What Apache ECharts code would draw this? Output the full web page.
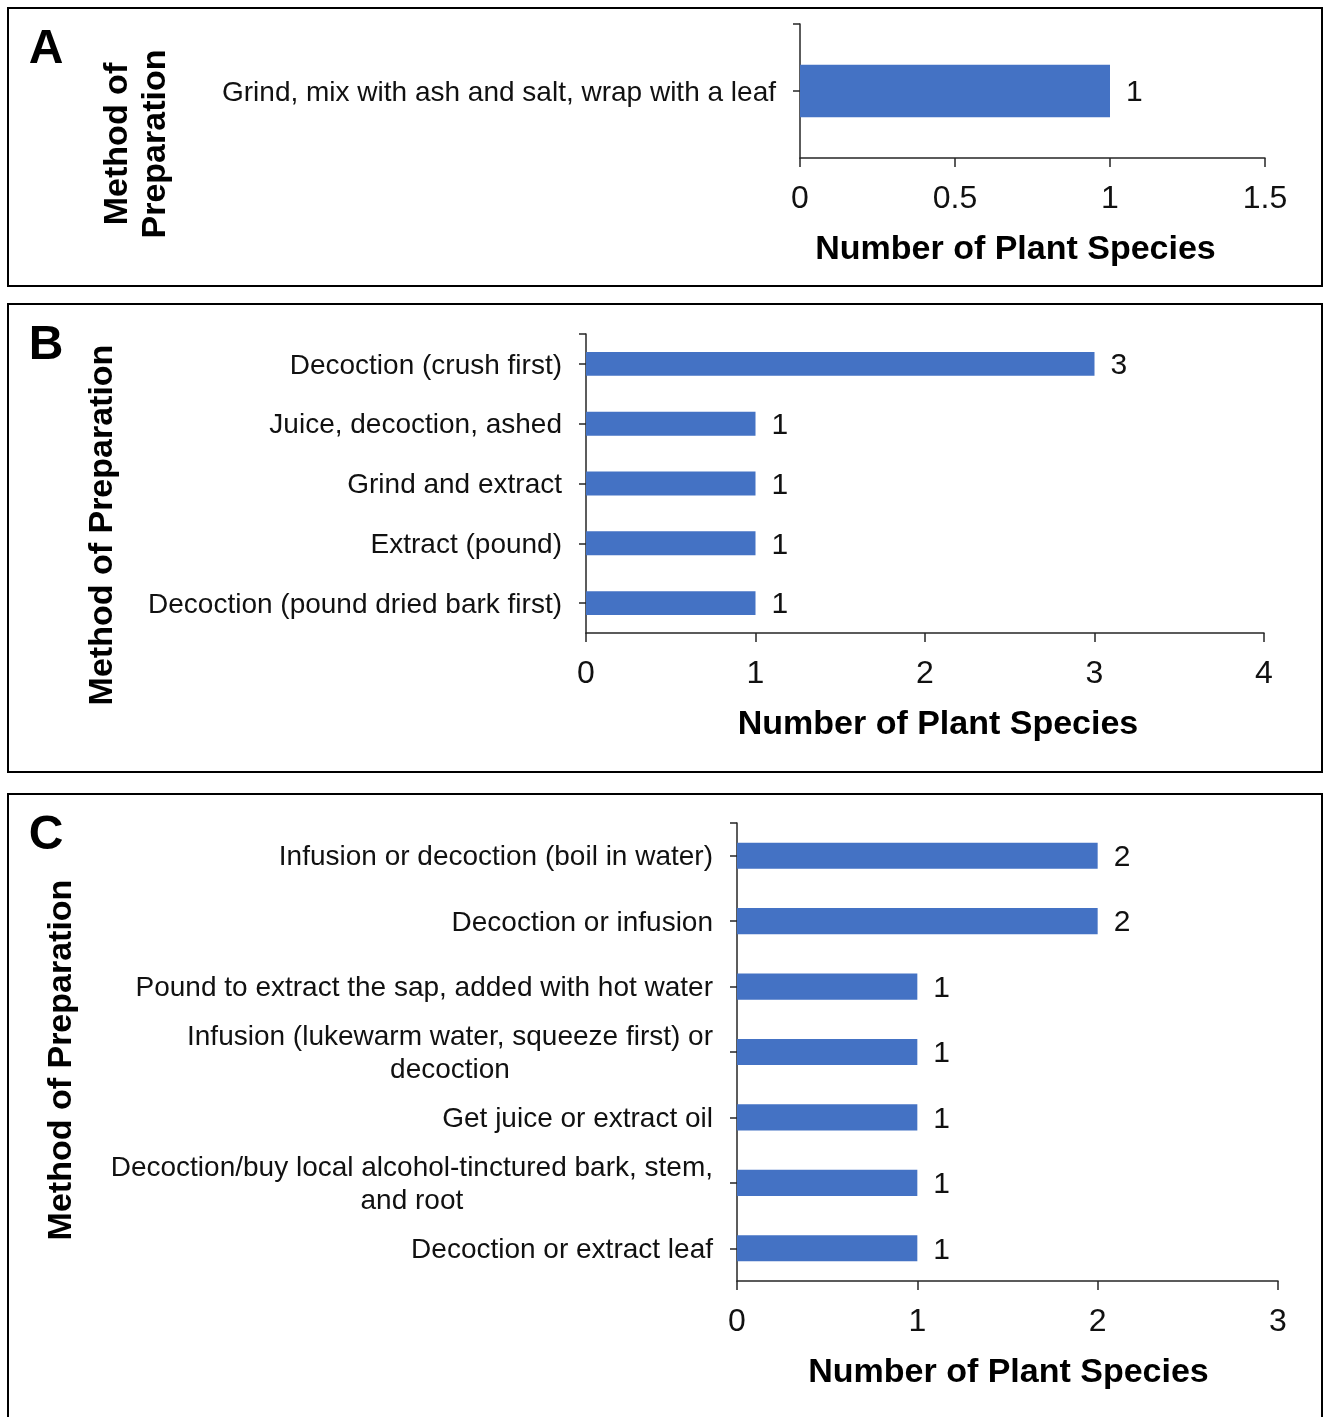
<!DOCTYPE html>
<html>
<head>
<meta charset="utf-8">
<script src="https://cdn.jsdelivr.net/npm/echarts@6/dist/echarts.min.js"></script>
<style>
html,body{margin:0;padding:0;background:#fff;}
#main{width:1324px;height:1417px;}
</style>
</head>
<body>
<div id="main"></div>
<script>
// ---- data ----
var catA = ['Grind, mix with ash and salt, wrap with a leaf'];
var valA = [1];
var ticksA = [0, 0.5, 1, 1.5];

var catB = ['Decoction (crush first)', 'Juice, decoction, ashed', 'Grind and extract', 'Extract (pound)', 'Decoction (pound dried bark first)'];
var valB = [3, 1, 1, 1, 1];
var ticksB = [0, 1, 2, 3, 4];

var catC = ['Infusion or decoction (boil in water)', 'Decoction or infusion', 'Pound to extract the sap, added with hot water', 'Infusion (lukewarm water, squeeze first) or\ndecoction', 'Get juice or extract oil', 'Decoction/buy local alcohol-tinctured bark, stem,\nand root', 'Decoction or extract leaf'];
var valC = [2, 2, 1, 1, 1, 1, 1];
var ticksC = [0, 1, 2, 3];

var xName = 'Number of Plant Species';
var yNameA = 'Method of\nPreparation';
var yName = 'Method of Preparation';
var panelLetters = ['A', 'B', 'C'];

// ---- styles ----
var FONT = '"Liberation Sans", Arial, sans-serif';
var TXT = '#111';
var AX = '#262626';
var BAR = '#4472C4';

var chart = echarts.init(document.getElementById('main'), null, {renderer: 'canvas'});

var grids = [
  {left: 800, top: 24, width: 465, height: 134},
  {left: 586, top: 334, width: 678, height: 299},
  {left: 737, top: 823, width: 541, height: 458}
];
var barPct = ['39%', '40%', '40%'];
var namePad = [[0, 34, 0, 0], [0, 0, 0, 26], [0, 0, 0, 2]];
var cats = [catA, catB, catC];
var vals = [valA, valB, valC];
var ticks = [ticksA, ticksB, ticksC];

function xAxis(i) {
  var t = ticks[i];
  return {
    type: 'value', gridIndex: i,
    min: t[0], max: t[t.length - 1], interval: t[1] - t[0],
    name: xName, nameLocation: 'middle', nameGap: 75,
    nameTextStyle: {fontFamily: FONT, fontSize: 34, fontWeight: 'bold', color: '#000', padding: namePad[i]},
    axisLine: {show: true, lineStyle: {color: AX, width: 1.5}},
    axisTick: {show: true, length: 9, lineStyle: {color: AX, width: 1.5}},
    axisLabel: {show: true, margin: 25, fontFamily: FONT, fontSize: 32, color: TXT},
    splitLine: {show: false}
  };
}
function yCat(i) {
  return {
    type: 'category', gridIndex: i, data: cats[i], inverse: true,
    axisLine: {show: true, lineStyle: {color: AX, width: 1.5}},
    axisTick: {show: true, alignWithLabel: true, length: 7, lineStyle: {color: AX, width: 1.5}},
    axisLabel: {
      show: true, interval: 0, margin: 24, fontFamily: FONT, fontSize: 28, color: TXT,
      padding: [4, 0, 0, 0],
      formatter: function (v) {
        return v.split('\n').map(function (l) { return '{c|' + l + '}'; }).join('\n');
      },
      rich: {c: {align: 'center', fontFamily: FONT, fontSize: 28, color: TXT, lineHeight: 33}}
    },
    splitLine: {show: false}
  };
}
function yTop(i) {
  return {
    type: 'value', gridIndex: i, min: 0, max: 1, position: 'left',
    axisLine: {show: false},
    axisTick: {show: true, customValues: [1], length: 7, lineStyle: {color: AX, width: 1.5}},
    axisLabel: {show: false},
    splitLine: {show: false}
  };
}

var series = [0, 1, 2].map(function (i) {
  return {
    type: 'bar', xAxisIndex: i, yAxisIndex: i, data: vals[i],
    barWidth: barPct[i],
    itemStyle: {color: BAR},
    label: {show: true, position: 'right', distance: 16, offset: [0, 2], fontFamily: FONT, fontSize: 30, color: TXT},
    silent: true
  };
});

var graphics = [
  {type: 'rect', shape: {x: 8, y: 8, width: 1314, height: 278}, style: {fill: 'none', stroke: '#000', lineWidth: 2}},
  {type: 'rect', shape: {x: 8, y: 304, width: 1314, height: 468}, style: {fill: 'none', stroke: '#000', lineWidth: 2}},
  {type: 'rect', shape: {x: 8, y: 794, width: 1314, height: 700}, style: {fill: 'none', stroke: '#000', lineWidth: 2}},
  {type: 'text', x: 46, y: 50, style: {text: panelLetters[0], font: 'bold 48px ' + FONT, fill: '#000', textAlign: 'center', textVerticalAlign: 'middle'}},
  {type: 'text', x: 46, y: 346, style: {text: panelLetters[1], font: 'bold 48px ' + FONT, fill: '#000', textAlign: 'center', textVerticalAlign: 'middle'}},
  {type: 'text', x: 46, y: 836, style: {text: panelLetters[2], font: 'bold 48px ' + FONT, fill: '#000', textAlign: 'center', textVerticalAlign: 'middle'}},
  {type: 'text', x: 137, y: 144, rotation: Math.PI / 2, style: {text: yNameA, font: 'bold 34px ' + FONT, fill: '#000', textAlign: 'center', textVerticalAlign: 'middle', lineHeight: 38}},
  {type: 'text', x: 103, y: 525, rotation: Math.PI / 2, style: {text: yName, font: 'bold 34px ' + FONT, fill: '#000', textAlign: 'center', textVerticalAlign: 'middle'}},
  {type: 'text', x: 62, y: 1060, rotation: Math.PI / 2, style: {text: yName, font: 'bold 34px ' + FONT, fill: '#000', textAlign: 'center', textVerticalAlign: 'middle'}}
];

chart.setOption({
  animation: false,
  backgroundColor: '#fff',
  grid: grids,
  xAxis: [xAxis(0), xAxis(1), xAxis(2)],
  yAxis: [yCat(0), yCat(1), yCat(2), yTop(0), yTop(1), yTop(2)],
  series: series,
  graphic: graphics
});
</script>
</body>
</html>
